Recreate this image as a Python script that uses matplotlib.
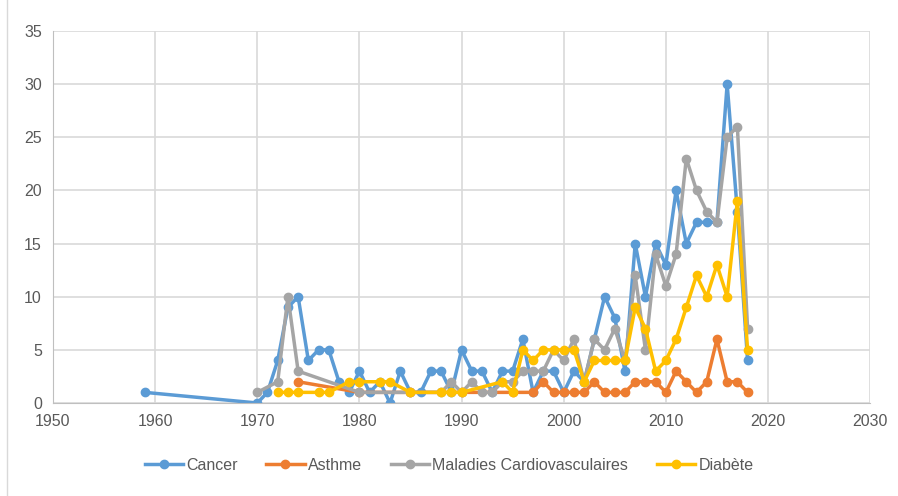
import matplotlib
matplotlib.use("Agg")
from matplotlib import pyplot as plt
from matplotlib.lines import Line2D

# data
cancer_years = [1959, 1970, 1971, 1972, 1973, 1974, 1975, 1976, 1977, 1978, 1979,
                1980, 1981, 1982, 1983, 1984, 1985, 1986, 1987, 1988, 1989, 1990,
                1991, 1992, 1993, 1994, 1995, 1996, 1997, 1998, 1999, 2000, 2001,
                2002, 2003, 2004, 2005, 2006, 2007, 2008, 2009, 2010, 2011, 2012,
                2013, 2014, 2015, 2016, 2017, 2018]
cancer_values = [1, 0, 1, 4, 9, 10, 4, 5, 5, 2, 1,
                 3, 1, 2, 0, 3, 1, 1, 3, 3, 1, 5,
                 3, 3, 1, 3, 3, 6, 1, 3, 3, 1, 3,
                 2, 6, 10, 8, 3, 15, 10, 15, 13, 20, 15,
                 17, 17, 17, 30, 18, 4]

asthme_years = [1974, 1980, 1985, 1990, 1995, 1997, 1998, 1999, 2000, 2001, 2002,
                2003, 2004, 2005, 2006, 2007, 2008, 2009, 2010, 2011, 2012, 2013,
                2014, 2015, 2016, 2017, 2018]
asthme_values = [2, 1, 1, 1, 1, 1, 2, 1, 1, 1, 1,
                 2, 1, 1, 1, 2, 2, 2, 1, 3, 2, 1,
                 2, 6, 2, 2, 1]

cardio_years = [1970, 1972, 1973, 1974, 1980, 1988, 1989, 1990, 1991, 1992, 1993,
                1994, 1995, 1996, 1997, 1998, 1999, 2000, 2001, 2002, 2003, 2004,
                2005, 2006, 2007, 2008, 2009, 2010, 2011, 2012, 2013, 2014, 2015,
                2016, 2017, 2018]
cardio_values = [1, 2, 10, 3, 1, 1, 2, 1, 2, 1, 1,
                 2, 2, 3, 3, 3, 5, 4, 6, 2, 6, 5,
                 7, 4, 12, 5, 14, 11, 14, 23, 20, 18, 17,
                 25, 26, 7]

diabete_years = [1972, 1973, 1974, 1976, 1977, 1979, 1980, 1982, 1983, 1985, 1988,
                 1989, 1990, 1994, 1995, 1996, 1997, 1998, 1999, 2000, 2001, 2002,
                 2003, 2004, 2005, 2006, 2007, 2008, 2009, 2010, 2011, 2012, 2013,
                 2014, 2015, 2016, 2017, 2018]
diabete_values = [1, 1, 1, 1, 1, 2, 2, 2, 2, 1, 1,
                  1, 1, 2, 1, 5, 4, 5, 5, 5, 5, 2,
                  4, 4, 4, 4, 9, 7, 3, 4, 6, 9, 12,
                  10, 13, 10, 19, 5]

series = [
    ("Cancer", cancer_years, cancer_values, "#5B9BD5"),
    ("Asthme", asthme_years, asthme_values, "#ED7D31"),
    ("Maladies Cardiovasculaires", cardio_years, cardio_values, "#A5A5A5"),
    ("Diabète", diabete_years, diabete_values, "#FFC000"),
]

plt.rcParams["font.family"] = ["Liberation Sans", "DejaVu Sans"]

fig = plt.figure(figsize=(8.98, 4.96), dpi=100)
ax = fig.add_axes([0.059, 0.1875, 0.91, 0.75])

for name, xs, ys, color in series:
    ax.plot(xs, ys, color=color, linewidth=2.5, marker="o", markersize=6,
            label=name, solid_joinstyle="round")

ax.set_xlim(1950, 2030)
ax.set_ylim(0, 35)
ax.set_xticks(range(1950, 2031, 10))
ax.set_yticks(range(0, 36, 5))
ax.grid(True, color="#D9D9D9", linewidth=1.2)
ax.set_axisbelow(True)
for side in ["top", "right"]:
    ax.spines[side].set_visible(False)
for side in ["left", "bottom"]:
    ax.spines[side].set_color("#BFBFBF")
ax.tick_params(length=0, labelsize=11.5, labelcolor="#595959", pad=8)

ax.legend(loc="center", bbox_to_anchor=(0.5, 0.062), bbox_transform=fig.transFigure,
          ncol=4, frameon=False, fontsize=11.5, labelcolor="#595959",
          handlelength=2.4, handletextpad=0.2, columnspacing=1.8)

# chart area border on the left
fig.add_artist(Line2D([0.008, 0.008], [0, 1], color="#D9D9D9", linewidth=1,
                      transform=fig.transFigure))

fig.savefig("out.png", dpi=100)
